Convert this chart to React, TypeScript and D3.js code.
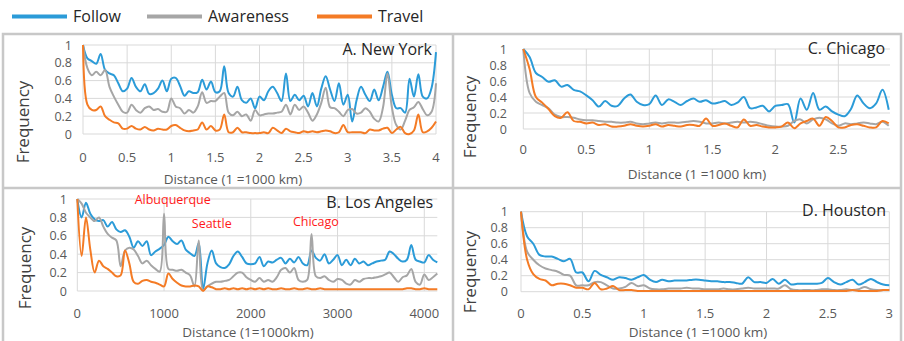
import React from 'react';
import * as d3 from 'd3';

// series colours
const BLUE = '#2b9bd8';
const GRAY = '#a6a6a6';
const ORANGE = '#f47b25';
const FONT = "'Open Sans', 'Noto Sans', sans-serif";

const seriesNames = ['Follow', 'Awareness', 'Travel'];
const seriesColors = [BLUE, GRAY, ORANGE];

const yTicks = [0, 0.2, 0.4, 0.6, 0.8, 1];

// A. New York, distance bins 0..4 step 0.05
const nyDist = d3.range(0, 81).map(i => i * 0.05);
const nyFollow = [
  1.0, 0.85, 0.82, 0.79, 0.9, 0.72, 0.68, 0.66, 0.57, 0.48,
  0.51, 0.63, 0.53, 0.48, 0.56, 0.45, 0.46, 0.51, 0.6, 0.48,
  0.62, 0.63, 0.54, 0.43, 0.48, 0.46, 0.47, 0.61, 0.5, 0.59,
  0.47, 0.48, 0.76, 0.46, 0.42, 0.53, 0.38, 0.35, 0.4, 0.29,
  0.42, 0.38, 0.48, 0.53, 0.46, 0.37, 0.68, 0.37, 0.44, 0.38,
  0.43, 0.31, 0.46, 0.31, 0.51, 0.65, 0.5, 0.37, 0.57, 0.33,
  0.44, 0.14, 0.38, 0.53, 0.44, 0.37, 0.5, 0.38, 0.53, 0.7,
  0.44, 0.29, 0.29, 0.24, 0.62, 0.42, 0.67, 0.42, 0.4, 0.52,
  0.92,
];
const nyAwareness = [
  1.0, 0.74, 0.66, 0.7, 0.66, 0.72, 0.53, 0.42, 0.33, 0.25,
  0.24, 0.33, 0.27, 0.24, 0.29, 0.31, 0.27, 0.28, 0.25, 0.25,
  0.4, 0.31, 0.29, 0.23, 0.27, 0.24, 0.31, 0.47, 0.35, 0.37,
  0.37, 0.42, 0.46, 0.24, 0.21, 0.25, 0.2, 0.22, 0.15, 0.27,
  0.21, 0.22, 0.23, 0.23, 0.24, 0.25, 0.33, 0.22, 0.33, 0.27,
  0.31, 0.24, 0.15, 0.22, 0.35, 0.52, 0.3, 0.29, 0.25, 0.2,
  0.27, 0.28, 0.23, 0.24, 0.29, 0.25, 0.17, 0.14, 0.3, 0.68,
  0.3, 0.1, 0.05, 0.15, 0.27, 0.3, 0.36, 0.28, 0.21, 0.25,
  0.57,
];
const nyTravel = [
  1.0, 0.33, 0.27, 0.27, 0.31, 0.2, 0.16, 0.13, 0.12, 0.06,
  0.06, 0.09, 0.06, 0.05, 0.08, 0.05, 0.04, 0.06, 0.05, 0.05,
  0.09, 0.1, 0.07, 0.04, 0.03, 0.04, 0.05, 0.13, 0.05, 0.09,
  0.04, 0.05, 0.22, 0.02, 0.02, 0.07, 0.02, 0.02, 0.01, 0.01,
  0.01, 0.02, 0.01, 0.07, 0.04, 0.01, 0.06, 0.03, 0.02, 0.01,
  0.03, 0.02, 0.03, 0.02, 0.03, 0.04, 0.03, 0.01, 0.02, 0.1,
  0.02, 0.02, 0.02, 0.02, 0.01, 0.05, 0.04, 0.04, 0.06, 0.07,
  0.01, 0.05, 0.08, 0.01, 0.0, 0.04, 0.22, 0.02, 0.03, 0.07,
  0.14,
];

// B. Los Angeles, distance bins 0..4150 km step 50
const laDist = d3.range(0, 84).map(i => i * 50);
const laFollow = [
  1.0, 0.8, 0.96, 0.84, 0.78, 0.76, 0.77, 0.7, 0.75, 0.67,
  0.64, 0.66, 0.59, 0.47, 0.54, 0.49, 0.54, 0.39, 0.43, 0.46,
  0.5, 0.59, 0.54, 0.51, 0.55, 0.45, 0.41, 0.38, 0.52, 0.02,
  0.3, 0.44, 0.3, 0.26, 0.25, 0.29, 0.38, 0.43, 0.37, 0.3,
  0.29, 0.3, 0.37, 0.27, 0.32, 0.31, 0.34, 0.36, 0.3, 0.35,
  0.31, 0.37, 0.3, 0.28, 0.44, 0.36, 0.33, 0.4, 0.3, 0.34,
  0.39, 0.28, 0.34, 0.28, 0.35, 0.3, 0.32, 0.28, 0.3, 0.32,
  0.33, 0.34, 0.43, 0.4, 0.35, 0.32, 0.34, 0.5, 0.34, 0.32,
  0.31, 0.39, 0.34, 0.31,
];
const laAwareness = [
  1.0, 0.95, 0.85, 0.8, 0.76, 0.8, 0.7, 0.62, 0.58, 0.55,
  0.27, 0.44, 0.47, 0.45, 0.38, 0.3, 0.33, 0.28, 0.24, 0.21,
  0.84, 0.24, 0.23, 0.22, 0.23, 0.2, 0.17, 0.05, 0.55, 0.01,
  0.05, 0.08, 0.1, 0.1, 0.11, 0.12, 0.16, 0.2, 0.2, 0.15,
  0.12, 0.1, 0.14, 0.1, 0.12, 0.1, 0.15, 0.23, 0.25, 0.2,
  0.25, 0.12, 0.1, 0.12, 0.62, 0.16, 0.14, 0.16, 0.12, 0.1,
  0.13, 0.12, 0.08, 0.07, 0.12, 0.1, 0.13, 0.14, 0.14, 0.15,
  0.16, 0.18, 0.2, 0.15, 0.1, 0.15, 0.17, 0.24, 0.1, 0.07,
  0.18, 0.12, 0.15, 0.19,
];
const laTravel = [
  1.0, 0.38, 0.8, 0.45, 0.2, 0.33, 0.27, 0.24, 0.2, 0.16,
  0.17, 0.44, 0.3, 0.1, 0.08, 0.11, 0.12, 0.1, 0.09, 0.07,
  0.05, 0.19, 0.13, 0.09, 0.06, 0.05, 0.05, 0.06, 0.05, 0.0,
  0.05, 0.04, 0.02, 0.02, 0.03, 0.02, 0.03, 0.02, 0.03, 0.02,
  0.03, 0.02, 0.03, 0.02, 0.03, 0.02, 0.02, 0.03, 0.02, 0.02,
  0.03, 0.02, 0.02, 0.03, 0.02, 0.02, 0.03, 0.02, 0.02, 0.02,
  0.02, 0.02, 0.02, 0.02, 0.02, 0.02, 0.02, 0.02, 0.02, 0.02,
  0.02, 0.02, 0.02, 0.02, 0.02, 0.02, 0.03, 0.03, 0.02, 0.02,
  0.03, 0.02, 0.02, 0.02,
];

// C. Chicago, distance bins 0..2.9 step 0.05
const chiDist = d3.range(0, 59).map(i => i * 0.05);
const chiFollow = [
  1.0, 0.9, 0.7, 0.65, 0.59, 0.61, 0.53, 0.55, 0.49, 0.47,
  0.42, 0.36, 0.28, 0.35, 0.29, 0.29, 0.38, 0.43, 0.34, 0.3,
  0.31, 0.42, 0.3, 0.37, 0.34, 0.3, 0.35, 0.38, 0.34, 0.36,
  0.32, 0.33, 0.35, 0.3, 0.33, 0.4, 0.26, 0.27, 0.29, 0.22,
  0.29, 0.3, 0.31, 0.08, 0.38, 0.24, 0.45, 0.24, 0.28, 0.22,
  0.18, 0.16, 0.25, 0.42, 0.32, 0.26, 0.32, 0.49, 0.24,
];
const chiAwareness = [
  1.0, 0.45, 0.34, 0.3, 0.26, 0.18, 0.15, 0.15, 0.14, 0.12,
  0.11, 0.11, 0.1, 0.09, 0.09, 0.08, 0.08, 0.09, 0.07, 0.06,
  0.07, 0.08, 0.07, 0.08, 0.08, 0.08, 0.09, 0.1, 0.09, 0.07,
  0.07, 0.08, 0.07, 0.08, 0.09, 0.08, 0.09, 0.08, 0.06, 0.04,
  0.03, 0.03, 0.04, 0.1, 0.12, 0.07, 0.12, 0.14, 0.12, 0.07,
  0.04, 0.07, 0.06, 0.07, 0.08, 0.07, 0.06, 0.09, 0.04,
];
const chiTravel = [
  1.0, 0.75, 0.4, 0.33, 0.25, 0.16, 0.14, 0.21, 0.1, 0.09,
  0.07, 0.08, 0.05, 0.06, 0.03, 0.03, 0.04, 0.06, 0.04, 0.03,
  0.04, 0.06, 0.03, 0.05, 0.04, 0.03, 0.05, 0.05, 0.04, 0.13,
  0.04, 0.05, 0.07, 0.04, 0.02, 0.12, 0.04, 0.05, 0.03, 0.02,
  0.02, 0.03, 0.08, 0.01, 0.07, 0.1, 0.13, 0.04, 0.15, 0.1,
  0.02, 0.02, 0.05, 0.06, 0.04, 0.02, 0.02, 0.1, 0.07,
];

// D. Houston, distance bins 0..3 step 0.05
const houDist = d3.range(0, 61).map(i => i * 0.05);
const houFollow = [
  1.0, 0.69, 0.6, 0.46, 0.44, 0.44, 0.41, 0.38, 0.41, 0.24,
  0.24, 0.13, 0.26, 0.21, 0.18, 0.15, 0.18, 0.17, 0.15, 0.18,
  0.21, 0.15, 0.12, 0.15, 0.13, 0.14, 0.14, 0.14, 0.15, 0.15,
  0.14, 0.13, 0.13, 0.12, 0.12, 0.11, 0.1, 0.18, 0.12, 0.12,
  0.11, 0.16, 0.1, 0.15, 0.09, 0.1, 0.1, 0.1, 0.1, 0.11,
  0.17, 0.12, 0.09, 0.12, 0.15, 0.09, 0.12, 0.16, 0.12, 0.09,
  0.08,
];
const houAwareness = [
  1.0, 0.5, 0.4, 0.33, 0.29, 0.27, 0.25, 0.21, 0.2, 0.08,
  0.08, 0.08, 0.12, 0.12, 0.08, 0.04, 0.04, 0.06, 0.11, 0.07,
  0.08, 0.04, 0.03, 0.03, 0.04, 0.04, 0.04, 0.05, 0.04, 0.04,
  0.03, 0.03, 0.03, 0.04, 0.03, 0.03, 0.04, 0.05, 0.04, 0.04,
  0.04, 0.04, 0.04, 0.08, 0.03, 0.02, 0.02, 0.02, 0.02, 0.03,
  0.03, 0.02, 0.02, 0.03, 0.02, 0.03, 0.06, 0.03, 0.02, 0.02,
  0.02,
];
const houTravel = [
  1.0, 0.4, 0.22, 0.16, 0.14, 0.08, 0.1, 0.1, 0.08, 0.05,
  0.05, 0.03, 0.11, 0.03, 0.04, 0.07, 0.02, 0.02, 0.02, 0.01,
  0.01, 0.01, 0.01, 0.01, 0.01, 0.01, 0.01, 0.01, 0.01, 0.01,
  0.01, 0.01, 0.01, 0.01, 0.01, 0.01, 0.01, 0.01, 0.01, 0.01,
  0.01, 0.01, 0.01, 0.01, 0.01, 0.01, 0.01, 0.01, 0.01, 0.01,
  0.01, 0.01, 0.01, 0.01, 0.02, 0.01, 0.01, 0.01, 0.01, 0.02,
  0.02,
];

const laNotes = [
  { label: 'Albuquerque', dist: 1100, freq: 0.95 },
  { label: 'Seattle', dist: 1550, freq: 0.68 },
  { label: 'Chicago', dist: 2750, freq: 0.71 },
];

const panels = [
  {
    title: 'A. New York', dist: nyDist, series: [nyFollow, nyAwareness, nyTravel],
    domain: [0, 4], xTicks: [0, 0.5, 1, 1.5, 2, 2.5, 3, 3.5, 4], xLabel: 'Distance (1 =1000 km)',
    x0: 83, x1: 436, yBot: 134, yTop: 45, titleX: 432, titleY: 54.5,
    yLabX: 72, xLabY: 161.5, axisTitleX: 233, axisTitleY: 184, freqX: 29, freqY: 122,
  },
  {
    title: 'C. Chicago', dist: chiDist, series: [chiFollow, chiAwareness, chiTravel],
    domain: [0, 2.91], xTicks: [0, 0.5, 1, 1.5, 2, 2.5], xLabel: 'Distance (1 =1000 km)',
    x0: 523.3, x1: 890, yBot: 129, yTop: 49, titleX: 885, titleY: 53.5,
    yLabX: 507, xLabY: 153.5, axisTitleX: 697, axisTitleY: 179, freqX: 476, freqY: 117,
  },
  {
    title: 'B. Los Angeles', dist: laDist, series: [laFollow, laAwareness, laTravel],
    domain: [0, 4150], xTicks: [0, 1000, 2000, 3000, 4000], xLabel: 'Distance (1=1000km)',
    x0: 77.3, x1: 437.3, yBot: 291, yTop: 199, titleX: 433, titleY: 207.5,
    yLabX: 67, xLabY: 317.5, axisTitleX: 248, axisTitleY: 336.5, freqX: 31, freqY: 268,
    notes: laNotes,
  },
  {
    title: 'D. Houston', dist: houDist, series: [houFollow, houAwareness, houTravel],
    domain: [0, 3], xTicks: [0, 0.5, 1, 1.5, 2, 2.5, 3], xLabel: 'Distance (1 =1000 km)',
    x0: 521, x1: 889.3, yBot: 291.7, yTop: 211.7, titleX: 886, titleY: 215.5,
    yLabX: 508, xLabY: 317.5, axisTitleX: 698, axisTitleY: 336.5, freqX: 476, freqY: 272,
  },
];

const Panel = ({ p }: { p: any }) => {
  const x = d3.scaleLinear().domain(p.domain).range([p.x0, p.x1]);
  const y = d3.scaleLinear().domain([0, 1]).range([p.yBot, p.yTop]);
  const line = d3.line<number>()
    .x((_, i) => x(p.dist[i]))
    .y(d => y(d))
    .curve(d3.curveCatmullRom.alpha(0.5));

  return (
    <g>
      {yTicks.map(t => (
        <line key={'h' + t} x1={p.x0} x2={p.x1} y1={y(t)} y2={y(t)} stroke="#d9d9d9" strokeWidth={1} />
      ))}
      {p.xTicks.map((t: number) => (
        <line key={'v' + t} x1={x(t)} x2={x(t)} y1={p.yTop} y2={p.yBot} stroke="#d9d9d9" strokeWidth={1} />
      ))}
      {yTicks.map(t => (
        <text key={'yl' + t} x={p.yLabX} y={y(t)} dy="0.36em" textAnchor="end"
          fontSize={12.5} fill="#595959">{String(t)}</text>
      ))}
      {p.xTicks.map((t: number) => (
        <text key={'xl' + t} x={x(t)} y={p.xLabY} textAnchor="middle"
          fontSize={13} fill="#595959">{String(t)}</text>
      ))}
      <text x={p.axisTitleX} y={p.axisTitleY} textAnchor="middle" fontSize={13.5} fill="#595959">{p.xLabel}</text>
      <text transform={`translate(${p.freqX},${p.freqY}) rotate(-90)`} textAnchor="middle"
        fontSize={17} fill="#404040">Frequency</text>
      {p.series.map((s: number[], i: number) => (
        <path key={'s' + i} d={line(s) || ''} fill="none" stroke={seriesColors[i]}
          strokeWidth={2} strokeLinejoin="round" />
      ))}
      <text x={p.titleX} y={p.titleY} textAnchor="end" fontSize={16} fill="#262626">{p.title}</text>
      {(p.notes || []).map((n: any) => (
        <text key={n.label} x={x(n.dist)} y={y(n.freq)} textAnchor="middle" fontSize={12.5}
          fill="#ff1a1a">{n.label}</text>
      ))}
    </g>
  );
};

const legendX = [12, 147, 317];

export default function App() {
  return (
    <svg width={904} height={341} style={{ position: 'absolute', left: 0, top: 0, fontFamily: FONT }}>
      <rect width={904} height={341} fill="#ffffff" />
      {seriesNames.map((name, i) => (
        <g key={name}>
          <line x1={legendX[i]} x2={legendX[i] + 55} y1={16.5} y2={16.5} stroke={seriesColors[i]} strokeWidth={4} />
          <text x={legendX[i] + 61} y={22} fontSize={16} fill="#262626">{name}</text>
        </g>
      ))}
      {/* panel frame */}
      <rect x={3} y={34} width={898} height={320} fill="none" stroke="#c8c8c8" strokeWidth={2.5} />
      <line x1={453} x2={453} y1={34} y2={341} stroke="#c8c8c8" strokeWidth={2.5} />
      <line x1={3} x2={901} y1={188} y2={188} stroke="#c8c8c8" strokeWidth={2.5} />
      {panels.map(p => <Panel key={p.title} p={p} />)}
    </svg>
  );
}
